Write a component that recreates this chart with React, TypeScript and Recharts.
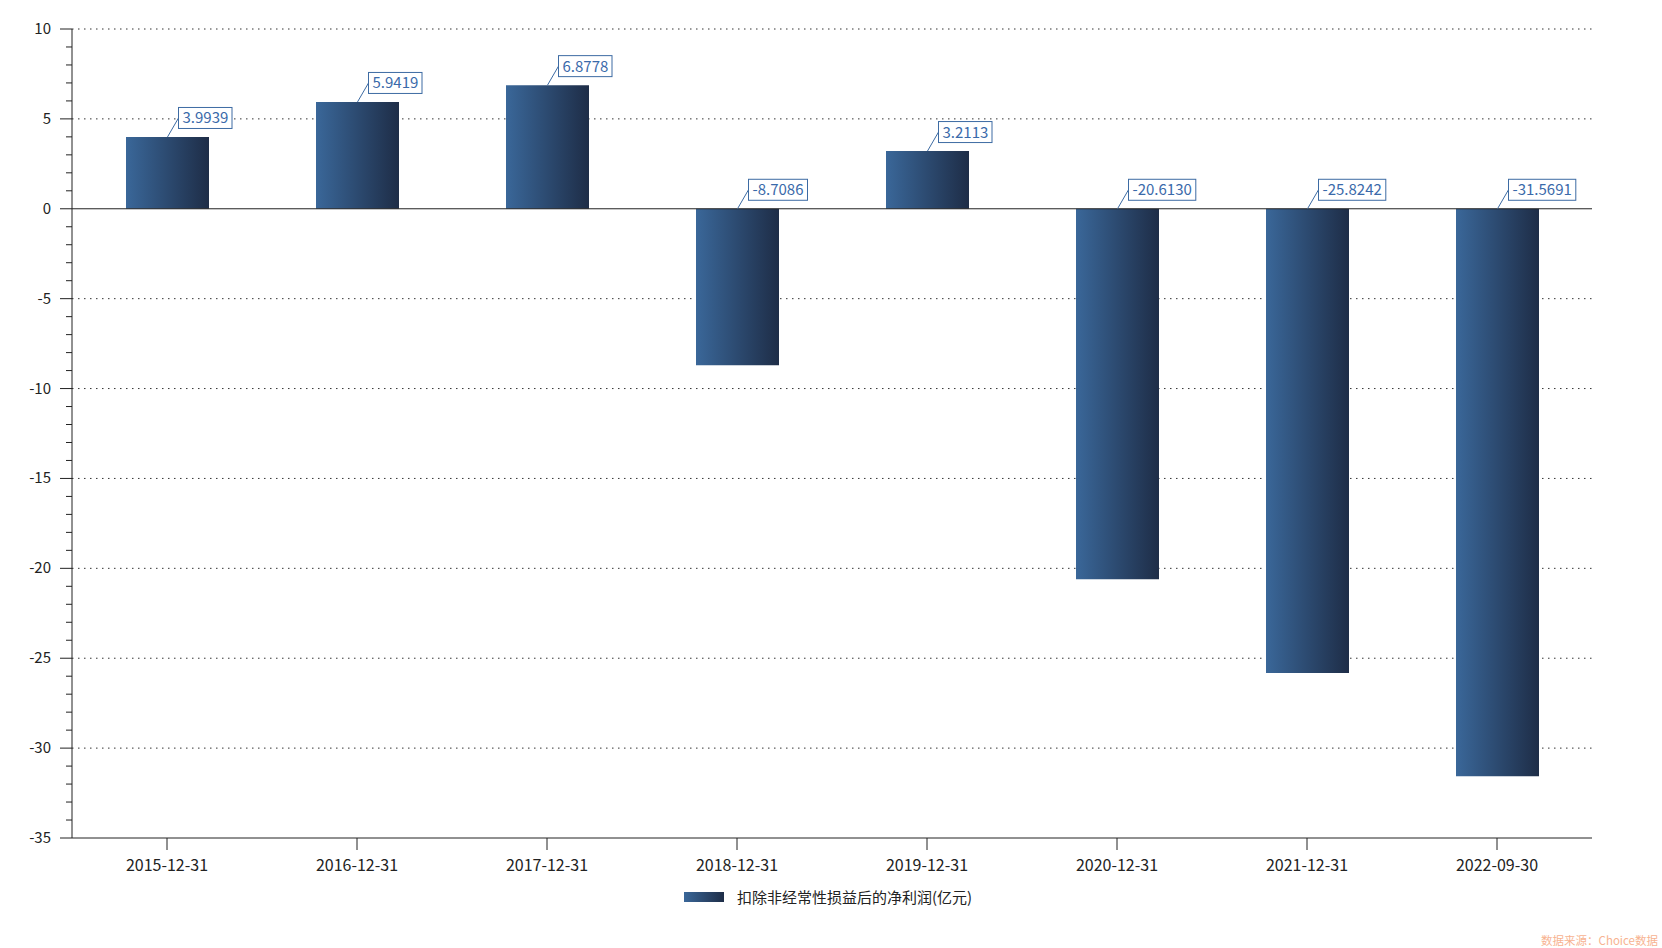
import { BarChart, Bar, XAxis, YAxis, CartesianGrid, ReferenceLine, LabelList } from 'recharts';

const periods = ['2015-12-31', '2016-12-31', '2017-12-31', '2018-12-31', '2019-12-31', '2020-12-31', '2021-12-31', '2022-09-30'];
const netProfit = [3.9939, 5.9419, 6.8778, -8.7086, 3.2113, -20.613, -25.8242, -31.5691];
const labels = ['3.9939', '5.9419', '6.8778', '-8.7086', '3.2113', '-20.6130', '-25.8242', '-31.5691'];
const yTicks = Array.from({ length: 46 }, (_, i) => 10 - i);
const gridValues = [10, 5, -5, -10, -15, -20, -25, -30];

const seriesName = '扣除非经常性损益后的净利润(亿元)';
const FONT = '"Noto Sans CJK SC", "Microsoft YaHei", sans-serif';
const AXIS_X = 72;

const data = periods.map((p, i) => ({ period: p, value: netProfit[i], label: labels[i] }));

function textWidth(s: string) {
  let w = 0;
  for (const c of s) {
    if (c === '.') w += 4;
    else if (c === '-') w += 5.5;
    else w += 8.3;
  }
  return w;
}

const YTick = (props: any) => {
  const { y, payload } = props;
  const v = payload.value;
  const major = v % 5 === 0;
  return (
    <g>
      <line x1={AXIS_X - (major ? 12 : 6)} x2={AXIS_X} y1={y} y2={y} stroke="#222" strokeWidth={1} />
      {major && (
        <text x={51} y={y} dy={5} textAnchor="end" fontSize={15} fill="#222" fontFamily={FONT}>
          {v}
        </text>
      )}
    </g>
  );
};

const BoxLabel = (props: any) => {
  const { x, y, width, height, value } = props;
  const cx = x + width / 2;
  const top = Math.min(y, y + height);
  const bx = cx + 11;
  const midY = top - 19;
  const w = textWidth(String(value)) + 8;
  return (
    <g>
      <line x1={cx} y1={top} x2={bx} y2={midY} stroke="#3d6ba3" strokeWidth={1} />
      <rect x={bx} y={midY - 10.5} width={w} height={21} fill="#fff" stroke="#3d6ba3" strokeWidth={1} />
      <text x={bx + 4} y={midY + 5.5} fontSize={15} fill="#3a6aaa" fontFamily={FONT}>
        {value}
      </text>
    </g>
  );
};

export default function App() {
  return (
    <div style={{ position: 'absolute', left: 0, top: 0, width: 1662, height: 948, background: '#fff', overflow: 'hidden' }}>
      <BarChart
        width={1662}
        height={948}
        data={data}
        margin={{ top: 29, right: 70, bottom: 80, left: 0 }}
        style={{ fontFamily: FONT }}
      >
        <defs>
          <linearGradient id="barGrad" x1="0" y1="0" x2="1" y2="0">
            <stop offset="0%" stopColor="#3a6799" />
            <stop offset="100%" stopColor="#1e2d47" />
          </linearGradient>
        </defs>
        <CartesianGrid
          vertical={false}
          horizontalValues={gridValues}
          stroke="#333"
          strokeDasharray="1.5 4.5"
        />
        <XAxis
          dataKey="period"
          height={30}
          axisLine={{ stroke: '#222' }}
          tickLine={{ stroke: '#222' }}
          tickSize={12}
          tickMargin={10}
          tick={{ fontSize: 16, fill: '#222', fontFamily: FONT }}
          interval={0}
        />
        <YAxis
          width={AXIS_X}
          domain={[-35, 10]}
          ticks={yTicks}
          interval={0}
          allowDataOverflow
          axisLine={{ stroke: '#222' }}
          tickLine={false}
          tick={<YTick />}
        />
        <ReferenceLine y={0} stroke="#222" strokeWidth={1} />
        <Bar dataKey="value" name={seriesName} fill="url(#barGrad)" barSize={83} isAnimationActive={false}>
          <LabelList dataKey="label" content={<BoxLabel />} />
        </Bar>
      </BarChart>
      <div
        style={{
          position: 'absolute',
          left: 684,
          top: 886,
          display: 'flex',
          alignItems: 'center',
          fontFamily: FONT,
          fontSize: 15,
          color: '#222',
          whiteSpace: 'nowrap',
        }}
      >
        <span
          style={{
            display: 'inline-block',
            width: 40,
            height: 10,
            background: 'linear-gradient(to right, #3a6799, #1e2d47)',
            marginRight: 13,
          }}
        />
        <span>{seriesName}</span>
      </div>
      <div
        style={{
          position: 'absolute',
          right: 4,
          top: 932,
          fontSize: 11.5,
          color: '#f7b391',
          fontFamily: FONT,
          whiteSpace: 'nowrap',
        }}
      >
        数据来源：Choice数据
      </div>
    </div>
  );
}
